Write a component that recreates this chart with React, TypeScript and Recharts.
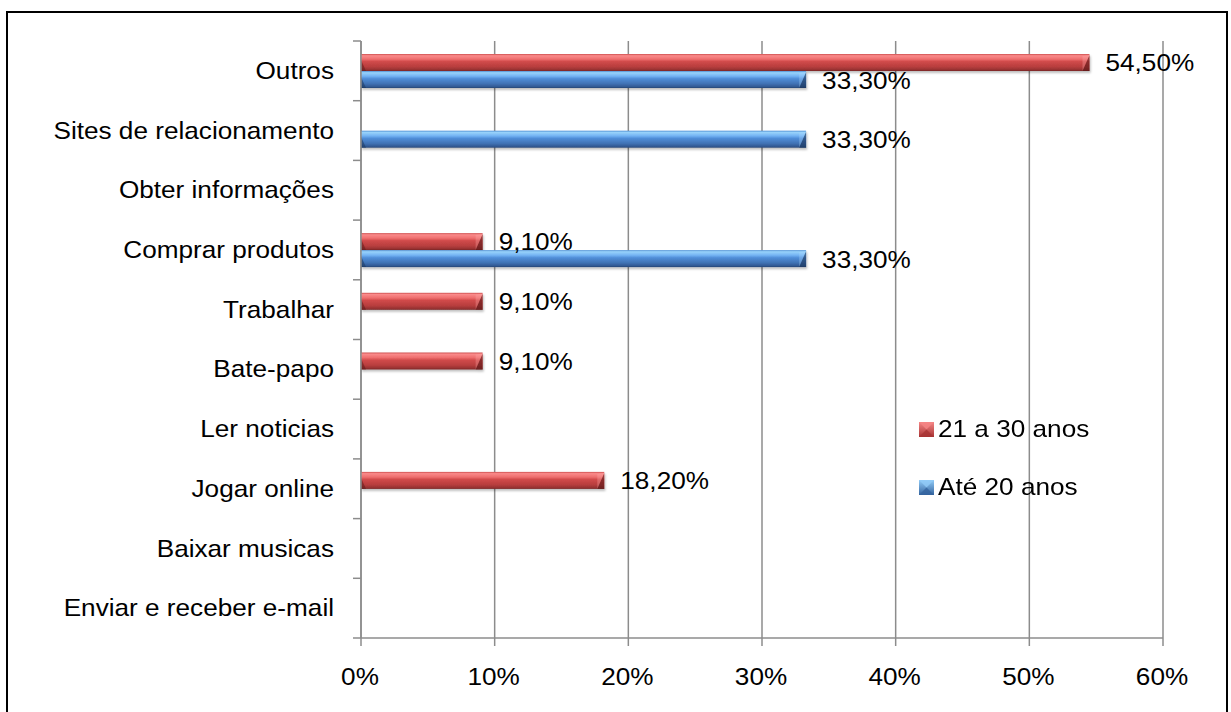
import React from 'react';
import { BarChart, Bar, XAxis, YAxis, CartesianGrid, Legend, LabelList } from 'recharts';

const categories = [
  'Outros',
  'Sites de relacionamento',
  'Obter informações',
  'Comprar produtos',
  'Trabalhar',
  'Bate-papo',
  'Ler noticias',
  'Jogar online',
  'Baixar musicas',
  'Enviar e receber e-mail',
];
const series21a30: (number | null)[] = [54.5, null, null, 9.1, 9.1, 9.1, null, 18.2, null, null];
const seriesAte20: (number | null)[] = [33.3, 33.3, null, 33.3, null, null, null, null, null, null];
const xTicks = [0, 10, 20, 30, 40, 50, 60];
const seriesNames = ['21 a 30 anos', 'Até 20 anos'];

const data = categories.map((c, i) => ({ category: c, a: series21a30[i], b: seriesAte20[i] }));

const W = 1231;
const H = 712;
const M_TOP = 41;
const M_RIGHT = 68;
const Y_W = 361;
const X_H = 74;
const BAND = (H - M_TOP - X_H) / categories.length;
const GRID = '#8c8c8c';
const SX = 1.09;
const FONT = '"Liberation Sans", Arial, sans-serif';
const FS = 24;

const fmtPct = (v: number) => v.toFixed(2).replace('.', ',') + '%';

const YTick = (props: any) => {
  const y = Number(props.y);
  const half = BAND / 2;
  const isLast = props.payload && props.payload.value === categories[categories.length - 1];
  return (
    <g>
      <line x1={Y_W - 8} x2={Y_W} y1={y - half} y2={y - half} stroke={GRID} strokeWidth={1.5} />
      {isLast && <line x1={Y_W - 8} x2={Y_W} y1={y + half} y2={y + half} stroke={GRID} strokeWidth={1.5} />}
      <text
        transform={`translate(${Y_W - 27},${y - 0.5}) scale(${SX},1)`}
        textAnchor="end"
        dominantBaseline="central"
        fontSize={FS}
        fontFamily={FONT}
        fill="#000"
      >
        {props.payload.value}
      </text>
    </g>
  );
};

const XTick = (props: any) => {
  const x = Number(props.x);
  const y = Number(props.y);
  return (
    <text
      transform={`translate(${x - 1},${y + 28}) scale(${SX},1)`}
      textAnchor="middle"
      dominantBaseline="central"
      fontSize={FS}
      fontFamily={FONT}
      fill="#000"
    >
      {props.payload.value + '%'}
    </text>
  );
};

const makeLabel = (dy: number) => (props: any) => {
  const { value } = props;
  if (value == null) return null;
  const x = Number(props.x);
  const y = Number(props.y);
  const w = Number(props.width);
  const h = Number(props.height);
  return (
    <text
      transform={`translate(${x + w + 16},${y + h / 2 + dy}) scale(${SX},1)`}
      dominantBaseline="central"
      fontSize={FS}
      fontFamily={FONT}
      fill="#000"
    >
      {fmtPct(Number(value))}
    </text>
  );
};

const makeShape = (grad: string, dark: string, light: string) => (props: any) => {
  const x = Number(props.x);
  const y = Number(props.y);
  const w = Number(props.width);
  const h = Number(props.height);
  if (!(w > 0) || !(h > 0)) return null;
  const b = Math.min(7, w / 2);
  return (
    <g filter="url(#barShadow)">
      <rect x={x} y={y} width={w} height={h} fill={`url(#${grad})`} />
      <polygon points={`${x + w - b},${y + h} ${x + w},${y + 1} ${x + w},${y + h}`} fill={dark} opacity={0.6} />
      <polygon points={`${x + w - b},${y + 2} ${x + w},${y + 1} ${x + w - b},${y + h}`} fill={light} opacity={0.3} />
      <polygon points={`${x},${y + h * 0.35} ${x + 5},${y + h} ${x},${y + h}`} fill={dark} opacity={0.5} />
    </g>
  );
};

const legendColors = [
  { grad: 'legRed', top: '#f58686', bottom: '#a83434' },
  { grad: 'legBlue', top: '#92ccf8', bottom: '#34649f' },
];

const LegendContent = () => (
  <div style={{ fontFamily: FONT, fontSize: FS, color: '#000', lineHeight: 1 }}>
    {seriesNames.map((n, i) => (
      <div key={n} style={{ display: 'flex', alignItems: 'center', height: 58 }}>
        <svg width={15} height={15} style={{ display: 'block' }}>
          <defs>
            <linearGradient id={legendColors[i].grad} x1="0" y1="0" x2="0" y2="1">
              <stop offset="0%" stopColor={legendColors[i].top} />
              <stop offset="100%" stopColor={legendColors[i].bottom} />
            </linearGradient>
          </defs>
          <rect x={0} y={0} width={15} height={15} fill={`url(#${legendColors[i].grad})`} />
          <polygon points="0,0 15,0 7.5,7.5" fill={legendColors[i].top} opacity={0.8} />
          <polygon points="0,15 15,15 7.5,7.5" fill={legendColors[i].bottom} opacity={0.8} />
        </svg>
        <span style={{ display: 'inline-block', marginLeft: 4, transform: `scaleX(${SX})`, transformOrigin: 'left center', whiteSpace: 'nowrap' }}>
          {n}
        </span>
      </div>
    ))}
  </div>
);

export default function App() {
  return (
    <div style={{ position: 'fixed', left: 0, top: 0, width: W, height: H, background: '#fff', overflow: 'hidden' }}>
      <div
        style={{
          position: 'absolute',
          left: 6,
          top: 11,
          width: 1222,
          height: 720,
          border: '2px solid #000',
          boxSizing: 'border-box',
        }}
      />
      <div style={{ position: 'absolute', left: 0, top: 0 }}>
        <BarChart
          width={W}
          height={H}
          data={data}
          layout="vertical"
          margin={{ top: M_TOP, right: M_RIGHT, left: 0, bottom: 0 }}
          barSize={17}
          barGap={0}
        >
          <defs>
            <linearGradient id="gradRed" x1="0" y1="0" x2="0" y2="1">
              <stop offset="0%" stopColor="#cc4e4e" />
              <stop offset="10%" stopColor="#fa8a8a" />
              <stop offset="30%" stopColor="#ee6e6e" />
              <stop offset="45%" stopColor="#d04a4a" />
              <stop offset="75%" stopColor="#b83e3e" />
              <stop offset="92%" stopColor="#983232" />
              <stop offset="100%" stopColor="#782626" />
            </linearGradient>
            <linearGradient id="gradBlue" x1="0" y1="0" x2="0" y2="1">
              <stop offset="0%" stopColor="#5090d4" />
              <stop offset="10%" stopColor="#98d2fa" />
              <stop offset="30%" stopColor="#74b4f4" />
              <stop offset="45%" stopColor="#508ed8" />
              <stop offset="75%" stopColor="#4072b4" />
              <stop offset="92%" stopColor="#315a94" />
              <stop offset="100%" stopColor="#254574" />
            </linearGradient>
            <filter id="barShadow" x="-5%" y="-30%" width="110%" height="180%">
              <feDropShadow dx="1" dy="2" stdDeviation="1.2" floodColor="#000" floodOpacity="0.25" />
            </filter>
          </defs>
          <CartesianGrid horizontal={false} stroke={GRID} strokeWidth={1.5} />
          <XAxis
            type="number"
            domain={[0, 60]}
            ticks={xTicks}
            interval={0}
            height={X_H}
            tickSize={8}
            axisLine={{ stroke: GRID, strokeWidth: 1.5 }}
            tickLine={{ stroke: GRID, strokeWidth: 1.5 }}
            tick={<XTick />}
          />
          <YAxis
            type="category"
            dataKey="category"
            width={Y_W}
            interval={0}
            axisLine={{ stroke: GRID, strokeWidth: 1.5 }}
            tickLine={false}
            tick={<YTick />}
          />
          <Legend
            layout="vertical"
            align="center"
            verticalAlign="middle"
            content={<LegendContent />}
            wrapperStyle={{ left: 919, top: 400, width: 'auto' }}
          />
          <Bar
            dataKey="a"
            name={seriesNames[0]}
            fill="#c0413f"
            isAnimationActive={false}
            shape={makeShape('gradRed', '#5a1818', '#ffb0b0')}
          >
            <LabelList dataKey="a" content={makeLabel(0)} />
          </Bar>
          <Bar
            dataKey="b"
            name={seriesNames[1]}
            fill="#3f74b8"
            isAnimationActive={false}
            shape={makeShape('gradBlue', '#1a3358', '#b0dcff')}
          >
            <LabelList dataKey="b" content={makeLabel(0.5)} />
          </Bar>
        </BarChart>
      </div>
    </div>
  );
}
